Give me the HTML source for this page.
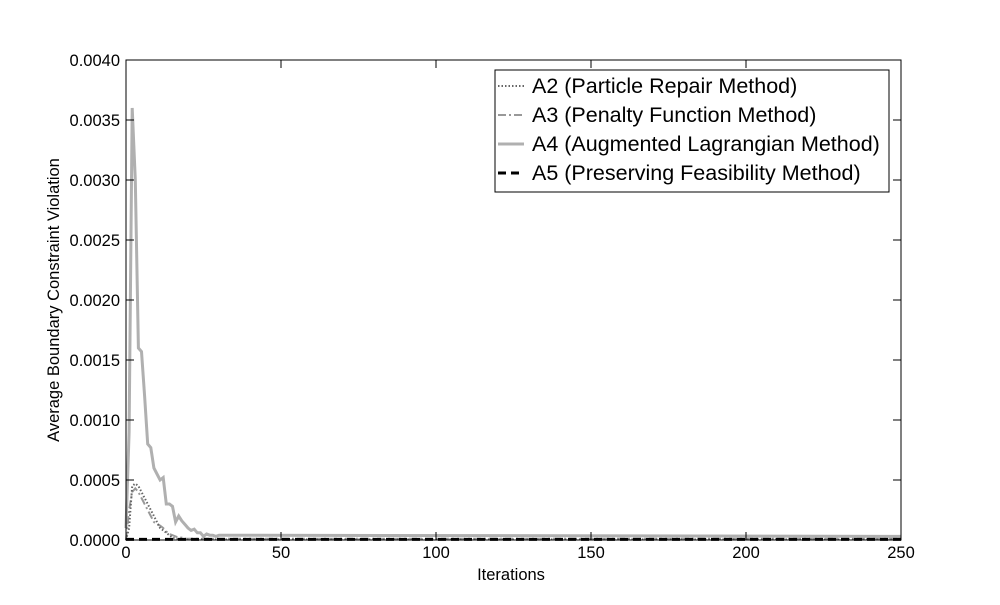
<!DOCTYPE html>
<html><head><meta charset="utf-8"><style>
body{margin:0;background:#fff;font-family:"Liberation Sans",sans-serif}
svg text{font-family:"Liberation Sans",sans-serif}
</style></head><body>
<svg id="chart" width="1000" height="600" xmlns="http://www.w3.org/2000/svg">
<rect x="0" y="0" width="1000" height="600" fill="#fff"/>
<g id="series"></g>
<rect x="126" y="60" width="775" height="480" fill="none" stroke="#000" stroke-width="1"/>
<g id="axes"></g>
<text x="511" y="580" font-size="16.5" text-anchor="middle">Iterations</text>
<text transform="translate(59,300) rotate(-90)" font-size="16.5" text-anchor="middle">Average Boundary Constraint Violation</text>
<g>
<rect x="495" y="70" width="394" height="122" fill="#fff" stroke="#000" stroke-width="1"/>
<g><line x1="498" y1="86" x2="524" y2="86" stroke="#666" stroke-width="2" stroke-dasharray="1.5,2"/><text x="532" y="93" font-size="21.5">A2 (Particle Repair Method)</text></g>
<g><line x1="498" y1="115" x2="524" y2="115" stroke="#999" stroke-width="2" stroke-dasharray="8,3,2,3"/><text x="532" y="122" font-size="21.5">A3 (Penalty Function Method)</text></g>
<g><line x1="498" y1="144" x2="524" y2="144" stroke="#b0b0b0" stroke-width="3"/><text x="532" y="151" font-size="21.5">A4 (Augmented Lagrangian Method)</text></g>
<g><line x1="498" y1="173" x2="524" y2="173" stroke="#000" stroke-width="3" stroke-dasharray="8,5"/><text x="532" y="180" font-size="21.5">A5 (Preserving Feasibility Method)</text></g>
</g>
</svg>
<script>
const xTicks=[0,50,100,150,200,250];
const yTicks=[0,0.0005,0.001,0.0015,0.002,0.0025,0.003,0.0035,0.004];
const yTickLabels=["0.0000","0.0005","0.0010","0.0015","0.0020","0.0025","0.0030","0.0035","0.0040"];
const iters=[0,1,2,3,4,5,6,7,8,9,10,11,12,13,14,15,16,17,18,19,20,21,22,23,24,25,26,27,28,29,30,31,40,250];
const a2=[0,0.0001,0.00045,0.00047,0.00045,0.0004,0.00035,0.0003,0.00025,0.0002,0.00015,0.0001,0.00008,0.00006,0.00004,0.00002,0.00001,0.00001,0.000005,0.000005,0.000005,0.000005,0.000005,0.000005,0.000005,0.000005,0.000005,0.000005,0.000005,0.000005,0.000005,0.000005,0.000005,0.000005];
const a3=[0,0.00025,0.0004,0.00043,0.0004,0.00035,0.0003,0.00025,0.0002,0.00015,0.00013,0.00012,0.0001,0.00007,0.00005,0.00004,0.00003,0.00002,0.00002,0.00001,0.00001,0.00001,0.00001,0.00001,0.00001,0.00001,0.00001,0.00001,0.00001,0.00001,0.00001,0.00001,0.00001,0.00001];
const a4=[0.0001,0.0009,0.0036,0.003,0.0016,0.00157,0.0012,0.0008,0.00077,0.0006,0.00055,0.0005,0.00052,0.0003,0.0003,0.00028,0.00015,0.0002,0.00016,0.00013,0.0001,0.00008,0.00009,0.00006,0.00006,0.00003,0.00005,0.00004,0.00004,0.00003,0.00004,0.00004,0.00004,0.00003];
const a5=[0.000005,0.000005,0.000005,0.000005,0.000005,0.000005,0.000005,0.000005,0.000005,0.000005,0.000005,0.000005,0.000005,0.000005,0.000005,0.000005,0.000005,0.000005,0.000005,0.000005,0.000005,0.000005,0.000005,0.000005,0.000005,0.000005,0.000005,0.000005,0.000005,0.000005,0.000005,0.000005,0.000005,0.000005];
const NS="http://www.w3.org/2000/svg";
const X=v=>126+v/250*775, Y=v=>540-v/0.004*480;
const axes=document.getElementById('axes'), ser=document.getElementById('series');
function mk(t,a,p){const e=document.createElementNS(NS,t);for(const k in a)e.setAttribute(k,a[k]);p.appendChild(e);return e;}
xTicks.forEach(t=>{
 const l=mk('line',{x1:X(t),x2:X(t),y1:540,y2:532,stroke:'#000'},axes);
 
 
 const l2=mk('line',{x1:X(t),x2:X(t),y1:60,y2:68,stroke:'#000'},axes);
 
 
 const tx=mk('text',{x:X(t),y:558,'font-size':16.5,'text-anchor':'middle'},axes);tx.textContent=t;
 
 
});
yTicks.forEach((t,i)=>{
 const l=mk('line',{x1:126,x2:134,y1:Y(t),y2:Y(t),stroke:'#000'},axes);
 
 
 const l2=mk('line',{x1:893,x2:901,y1:Y(t),y2:Y(t),stroke:'#000'},axes);
 
 
 const tx=mk('text',{x:120,y:Y(t)+6,'font-size':16.5,'text-anchor':'end'},axes);tx.textContent=yTickLabels[i];
 
 
});
function line(vals,style,name){
 const pts=iters.map((it,i)=>X(it)+','+Y(vals[i])).join(' ');
 const p=mk('polyline',Object.assign({points:pts,fill:'none'},style),ser);
 
 
}
line(a4,{stroke:'#b0b0b0','stroke-width':3},'series-a4');
line(a3,{stroke:'#999','stroke-width':2,'stroke-dasharray':'8,3,2,3'},'series-a3');
line(a2,{stroke:'#666','stroke-width':2,'stroke-dasharray':'1.5,2'},'series-a2');
line(a5,{stroke:'#000','stroke-width':3,'stroke-dasharray':'8,5'},'series-a5');
</script>
</body></html>
